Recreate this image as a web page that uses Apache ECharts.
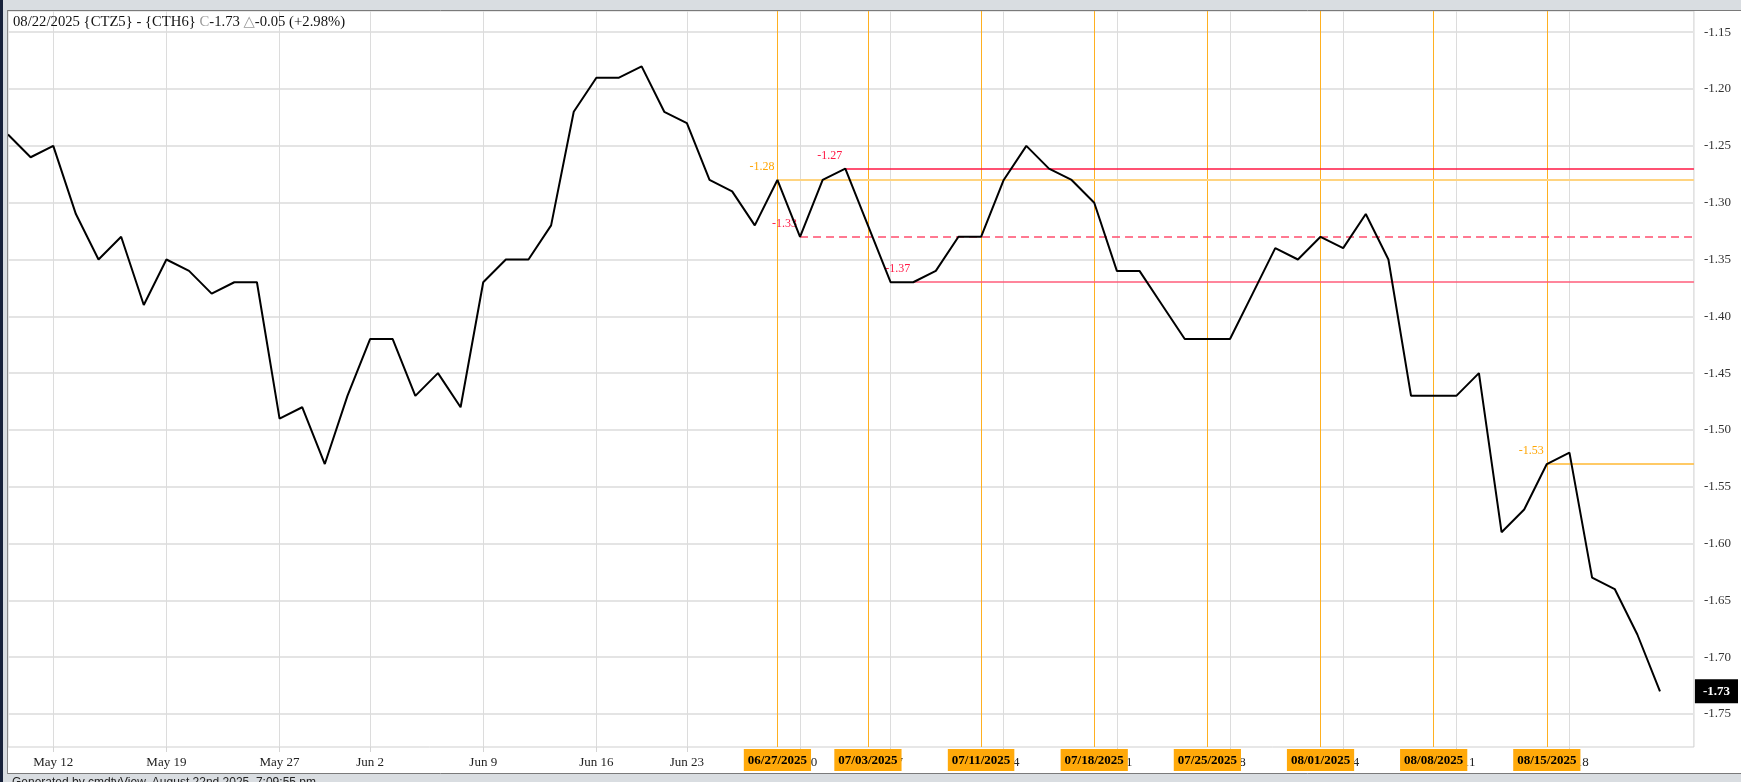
<!DOCTYPE html>
<html>
<head>
<meta charset="utf-8">
<script src="https://cdn.jsdelivr.net/npm/echarts@6/dist/echarts.min.js"></script>
<style>
  html, body { margin: 0; padding: 0; background: #fff; }
  #chart { width: 1741px; height: 782px; }
</style>
</head>
<body>
<div id="chart"></div>
<script>
// trading days on the chart
var days = [
  '2025-05-08', '2025-05-09', '2025-05-12', '2025-05-13', '2025-05-14', '2025-05-15', '2025-05-16',
  '2025-05-19', '2025-05-20', '2025-05-21', '2025-05-22', '2025-05-23',
  '2025-05-27', '2025-05-28', '2025-05-29', '2025-05-30',
  '2025-06-02', '2025-06-03', '2025-06-04', '2025-06-05', '2025-06-06',
  '2025-06-09', '2025-06-10', '2025-06-11', '2025-06-12', '2025-06-13',
  '2025-06-16', '2025-06-17', '2025-06-18', '2025-06-20',
  '2025-06-23', '2025-06-24', '2025-06-25', '2025-06-26', '2025-06-27',
  '2025-06-30', '2025-07-01', '2025-07-02', '2025-07-03',
  '2025-07-07', '2025-07-08', '2025-07-09', '2025-07-10', '2025-07-11',
  '2025-07-14', '2025-07-15', '2025-07-16', '2025-07-17', '2025-07-18',
  '2025-07-21', '2025-07-22', '2025-07-23', '2025-07-24', '2025-07-25',
  '2025-07-28', '2025-07-29', '2025-07-30', '2025-07-31', '2025-08-01',
  '2025-08-04', '2025-08-05', '2025-08-06', '2025-08-07', '2025-08-08',
  '2025-08-11', '2025-08-12', '2025-08-13', '2025-08-14', '2025-08-15',
  '2025-08-18', '2025-08-19', '2025-08-20', '2025-08-21', '2025-08-22'
];

// CTZ5 - CTH6 spread, daily close
var spread = [
  -1.24, -1.26, -1.25, -1.31, -1.35, -1.33, -1.39,
  -1.35, -1.36, -1.38, -1.37, -1.37,
  -1.49, -1.48, -1.53, -1.47,
  -1.42, -1.42, -1.47, -1.45, -1.48,
  -1.37, -1.35, -1.35, -1.32, -1.22,
  -1.19, -1.19, -1.18, -1.22,
  -1.23, -1.28, -1.29, -1.32, -1.28,
  -1.33, -1.28, -1.27, -1.32,
  -1.37, -1.37, -1.36, -1.33, -1.33,
  -1.28, -1.25, -1.27, -1.28, -1.30,
  -1.36, -1.36, -1.39, -1.42, -1.42,
  -1.42, -1.38, -1.34, -1.35, -1.33,
  -1.34, -1.31, -1.35, -1.47, -1.47,
  -1.47, -1.45, -1.59, -1.57, -1.53,
  -1.52, -1.63, -1.64, -1.68, -1.73
];

// weekly grid lines and their labels
var weekDays = ['2025-05-12', '2025-05-19', '2025-05-27', '2025-06-02', '2025-06-09', '2025-06-16',
  '2025-06-23', '2025-06-30', '2025-07-07', '2025-07-14', '2025-07-21', '2025-07-28',
  '2025-08-04', '2025-08-11', '2025-08-18'];
var weekLabels = ['May 12', 'May 19', 'May 27', 'Jun 2', 'Jun 9', 'Jun 16', 'Jun 23', 'Jun 30',
  'Jul 7', 'Jul 14', 'Jul 21', 'Jul 28', 'Aug 4', 'Aug 11', 'Aug 18'];

// orange end-of-week markers
var markerDays = ['2025-06-27', '2025-07-03', '2025-07-11', '2025-07-18',
  '2025-07-25', '2025-08-01', '2025-08-08', '2025-08-15'];

// price axis ticks
var yTicks = [-1.15, -1.20, -1.25, -1.30, -1.35, -1.40, -1.45, -1.50, -1.55, -1.60, -1.65, -1.70, -1.75];

// horizontal levels drawn from a day to the right edge
var levelDays = ['2025-06-27', '2025-07-02', '2025-06-30', '2025-07-08', '2025-08-15'];
var levelValues = [-1.28, -1.27, -1.33, -1.37, -1.53];
var levelKinds = ['orange', 'red', 'dashed', 'pink', 'orange2'];

var SERIF = '"Liberation Serif", "DejaVu Serif", serif';
var xMax = days.length - 1 + 1.5;

var weekIdx = weekDays.map(function (d) { return days.indexOf(d); });
var markerIdx = markerDays.map(function (d) { return days.indexOf(d); });
var weekLabelOf = {};
weekIdx.forEach(function (i, k) { weekLabelOf[i] = weekLabels[k]; });

function usDate(i) {
  var p = days[i].split('-');
  return p[1] + '/' + p[2] + '/' + p[0];
}

var kindStyle = {
  orange:  { line: { color: '#ffd480', width: 2, type: 'solid' }, text: '#ffa500' },
  red:     { line: { color: '#ff1744', width: 1.5, type: 'solid' }, text: '#ff1744' },
  dashed:  { line: { color: '#ff4d6d', width: 1.5, type: [8, 5] }, text: '#ff1744' },
  pink:    { line: { color: '#ff5c7a', width: 1.5, type: 'solid' }, text: '#ff1744' },
  orange2: { line: { color: '#ffb833', width: 1.5, type: 'solid' }, text: '#ffa500' }
};

var levelLines = levelDays.map(function (d, k) {
  var i = days.indexOf(d);
  return [
    { coord: [i, levelValues[k]], lineStyle: kindStyle[levelKinds[k]].line },
    { coord: [xMax, levelValues[k]] }
  ];
});
var levelLabels = levelDays.map(function (d, k) {
  var i = days.indexOf(d);
  return {
    coord: [i, levelValues[k]],
    value: levelValues[k].toFixed(2),
    label: { color: kindStyle[levelKinds[k]].text }
  };
});

var chart = echarts.init(document.getElementById('chart'));

var option = {
  animation: false,
  backgroundColor: '#fff',
  grid: {
    left: 8, top: 11, right: 42, bottom: 35,
    show: true, borderColor: '#cfcfcf', borderWidth: 1, backgroundColor: '#fff'
  },
  xAxis: [
    {
      type: 'value', min: 0, max: xMax, position: 'bottom',
      axisLine: { show: false },
      axisTick: { show: true, length: 5, customValues: weekIdx, lineStyle: { color: '#d4d4d4' } },
      axisLabel: {
        customValues: weekIdx,
        formatter: function (v) { return weekLabelOf[v] || ''; },
        fontFamily: SERIF, fontSize: 13, color: '#222', margin: 9
      },
      splitLine: { show: true, lineStyle: { color: '#dcdcdc', width: 1 } }
    },
    {
      type: 'value', min: 0, max: xMax, position: 'bottom',
      axisLine: { show: false },
      axisTick: { show: false, customValues: markerIdx },
      axisLabel: {
        customValues: markerIdx,
        formatter: function (v) { return usDate(v); },
        fontFamily: SERIF, fontSize: 13, fontWeight: 'bold', color: '#000',
        backgroundColor: '#ffa90a', padding: [5, 4, 4, 4], margin: 2
      },
      splitLine: { show: true, lineStyle: { color: '#ffb020', width: 1 } }
    }
  ],
  yAxis: [
    {
      type: 'value', position: 'right', min: -1.779, max: -1.1313,
      axisLine: { show: false },
      axisTick: { show: false, customValues: yTicks },
      axisLabel: {
        customValues: yTicks,
        formatter: function (v) { return v.toFixed(2); },
        fontFamily: SERIF, fontSize: 13, color: '#333', margin: 10
      },
      splitLine: { show: true, lineStyle: { color: '#e4e4e4', width: 2 } }
    },
    {
      type: 'value', position: 'right', min: -1.779, max: -1.1313,
      axisLine: { show: false },
      axisTick: { show: false, customValues: [spread[spread.length - 1]] },
      splitLine: { show: false },
      axisLabel: {
        customValues: [spread[spread.length - 1]],
        formatter: function (v) { return v.toFixed(2); },
        fontFamily: SERIF, fontSize: 13, fontWeight: 'bold', color: '#fff',
        backgroundColor: '#000', padding: [6, 8, 5, 8], margin: 1
      }
    }
  ],
  series: [
    {
      type: 'line',
      xAxisIndex: 0, yAxisIndex: 0,
      data: spread.map(function (v, i) { return [i, v]; }),
      showSymbol: false,
      symbol: 'none',
      clip: false,
      z: 5,
      lineStyle: { color: '#000', width: 2 },
      markLine: {
        silent: true,
        symbol: ['none', 'none'],
        label: { show: false },
        data: levelLines
      },
      markPoint: {
        silent: true,
        symbol: 'circle',
        symbolSize: 0,
        label: {
          show: true, position: 'left', distance: 3, offset: [0, -13],
          fontFamily: SERIF, fontSize: 12, formatter: '{c}'
        },
        data: levelLabels
      }
    }
  ],
  graphic: [
    { type: 'rect', shape: { x: 0, y: 0, width: 1741, height: 10 }, style: { fill: '#d9dde1' }, z: 10 },
    { type: 'line', shape: { x1: 7, y1: 10.5, x2: 1741, y2: 10.5 }, style: { stroke: '#7a7a7a', lineWidth: 1 }, z: 10 },
    { type: 'rect', shape: { x: 0, y: 773, width: 1741, height: 9 }, style: { fill: '#d9dde1' }, z: 10 },
    { type: 'line', shape: { x1: 7, y1: 773.5, x2: 1741, y2: 773.5 }, style: { stroke: '#7a7a7a', lineWidth: 1 }, z: 10 },
    { type: 'rect', shape: { x: 0, y: 0, width: 7, height: 782 }, style: { fill: '#d9dde1' }, z: 10 },
    { type: 'rect', shape: { x: 0, y: 0, width: 3, height: 782 }, style: { fill: '#17213a' }, z: 11 },
    { type: 'line', shape: { x1: 7.5, y1: 10, x2: 7.5, y2: 774 }, style: { stroke: '#8a8a8a', lineWidth: 1 }, z: 10 },
    {
      type: 'text', left: 13, top: 15, z: 12,
      style: {
        text: '08/22/2025 {CTZ5} - {CTH6} {g|C}-1.73 {g|\u25b3}-0.05 (+2.98%)',
        fill: '#111', fontFamily: SERIF, fontSize: 14.7,
        rich: { g: { fill: '#9a9a9a', fontFamily: SERIF, fontSize: 14.7 } }
      }
    },
    {
      type: 'text', left: 12, top: 777, z: 12,
      style: {
        text: 'Generated by cmdtyView, August 22nd 2025, 7:09:55 pm',
        fill: '#222', fontFamily: '"Liberation Sans", Arial, sans-serif', fontSize: 12
      }
    }
  ]
};

chart.setOption(option);
</script>
</body>
</html>
